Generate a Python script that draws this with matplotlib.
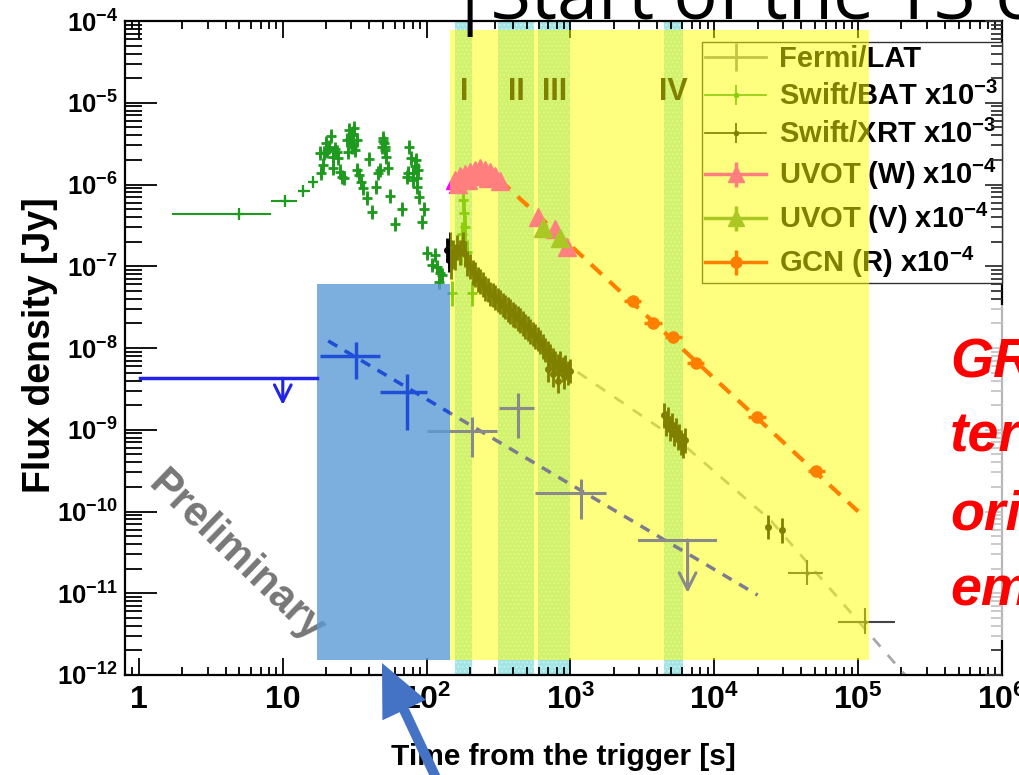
import matplotlib
matplotlib.use('Agg')
import matplotlib.pyplot as plt
from matplotlib.lines import Line2D
from matplotlib.patches import Rectangle, FancyArrow
import numpy as np

plt.rcParams['font.family'] = ['Liberation Sans', 'DejaVu Sans']
plt.rcParams['font.weight'] = 'bold'
plt.rcParams['mathtext.fontset'] = 'custom'
for k in ('rm', 'bf', 'it', 'sf'):
    plt.rcParams['mathtext.' + k] = 'Liberation Sans:bold'
plt.rcParams['mathtext.default'] = 'rm'
plt.rcParams['hatch.linewidth'] = 0.6

# ---- data (time [s], flux density [Jy]) ----
# Fermi/LAT (gray)
lat_t = [206, 434, 1175]
lat_tlo = [100, 317, 569]
lat_thi = [308, 557, 1780]
lat_f = [9.75e-10, 1.83e-9, 1.70e-10]
lat_flo = [4.7e-10, 7.85e-10, 8.0e-11]
lat_fhi = [1.44e-9, 2.79e-9, 2.48e-10]
lat_ul = [6520, 2990, 10190, 4.48e-11, 1.01e-11]   # t, tlo, thi, f, arrow end

# early LAT points (blue)
early_t = [32.3, 73.5]
early_tlo = [18.1, 47.3]
early_thi = [47.3, 100]
early_f = [7.98e-9, 2.92e-9]
early_flo = [4.14e-9, 9.9e-10]
early_fhi = [1.19e-8, 4.75e-9]
early_ul = [10, 1.02, 17.3, 4.26e-9, 2.01e-9]

lat_fit_t = [20.7, 2.0e4]
lat_fit_f = [1.22e-8, 9.5e-12]

# Swift/BAT x1e-3
bat_first_t = [5.0, 10.4, 13.9, 16.3]
bat_first_tlo = [1.70, 8.3, 12.8, 15.3]
bat_first_thi = [8.28, 12.6, 15.4, 17.4]
bat_first_f = [4.35e-7, 6.28e-7, 8.3e-7, 1.07e-6]
bat_t = [18.4, 19.0, 18.2, 19.2, 20.0, 20.8, 21.6, 22.5, 23.1, 23.7, 22.5, 24.8,
         25.7, 26.7, 28.1, 29.0, 29.7, 30.7, 31.3, 30.2, 31.8, 32.7, 28.6, 33.0,
         34.1, 35.0, 36.4, 38.4, 41.6, 40.0, 46.2, 44.5, 47.5, 49.6, 50.6, 51.4,
         52.3, 48.8, 54.2, 55.7, 60.4, 67.2, 75.9, 77.6, 72.8, 81.0, 84.5, 87.7,
         86.3, 89.1, 81.0, 74.7, 96.1, 92.7, 100, 109, 115, 118, 124, 121, 128,
         29.5, 31.0, 50.0, 51.0, 82.5, 85.5, 20.4, 24.2]
bat_f = [1.37e-6, 1.73e-6, 2.45e-6, 2.45e-6, 3.19e-6, 2.90e-6, 3.92e-6, 2.19e-6,
         2.69e-6, 2.52e-6, 1.58e-6, 1.44e-6, 1.25e-6, 1.19e-6, 3.50e-6, 4.64e-6,
         4.03e-6, 3.19e-6, 4.87e-6, 2.90e-6, 2.64e-6, 3.50e-6, 2.52e-6, 1.50e-6,
         1.31e-6, 1.08e-6, 8.97e-7, 6.78e-7, 4.65e-7, 2.03e-6, 1.37e-6, 9.40e-7,
         1.50e-6, 3.67e-6, 3.19e-6, 2.64e-6, 2.19e-6, 2.90e-6, 1.58e-6, 7.23e-7,
         3.29e-7, 5.01e-7, 2.90e-6, 2.09e-6, 1.25e-6, 1.13e-6, 2.00e-6, 1.50e-6,
         9.40e-7, 7.10e-7, 1.37e-6, 1.37e-6, 4.97e-7, 3.51e-7, 1.44e-7, 1.04e-7,
         1.37e-7, 9.88e-8, 8.2e-8, 6.48e-8, 7.81e-8,
         3.6e-6, 4.2e-6, 3.4e-6, 2.9e-6, 1.7e-6, 1.2e-6, 2.6e-6, 2.1e-6]
bat_late_t = [150, 172, 176, 179, 182, 186, 190, 206]
bat_late_f = [4.7e-8, 1.5e-7, 2.5e-7, 6.5e-7, 4.5e-7, 3.0e-7, 1.5e-7, 4.7e-8]

# Swift/XRT x1e-3
xrt_t = [138, 142, 145, 148,
         152, 158, 163, 171, 178, 185, 192, 201, 209, 217, 226, 235, 245, 255,
         265, 276, 288, 299, 311, 324, 337, 351, 365, 380, 396, 412, 429, 446,
         465, 484, 504, 524, 546, 568, 591, 615, 640, 666, 693, 722, 751, 782,
         814, 847, 882, 918, 955, 994, 700, 760, 820, 900,
         4500, 4650, 4800, 4950, 5100, 5250, 5400, 5550, 5700, 5900, 6100, 6300,
         2.37e4, 2.96e4]
xrt_f = [1.6e-7, 1.2e-7, 1.9e-7, 1.0e-7,
         1.5e-7, 1.3e-7, 1.7e-7, 1.5e-7, 1.9e-7, 1.4e-7, 1.1e-7, 1.0e-7, 8.5e-8,
         8.0e-8, 7.0e-8, 6.6e-8, 6.0e-8, 5.4e-8, 5.2e-8, 4.6e-8, 4.5e-8, 4.2e-8,
         3.9e-8, 3.7e-8, 3.4e-8, 3.2e-8, 3.0e-8, 2.8e-8, 2.6e-8, 2.5e-8, 2.3e-8,
         2.2e-8, 2.0e-8, 1.85e-8, 1.75e-8, 1.6e-8, 1.5e-8, 1.4e-8, 1.3e-8, 1.2e-8,
         1.05e-8, 9.5e-9, 8.8e-9, 8.0e-9, 7.2e-9, 6.6e-9, 6.0e-9, 6.5e-9, 5.5e-9,
         5.8e-9, 5.0e-9, 5.3e-9, 5.5e-9, 4.8e-9, 4.0e-9, 4.5e-9,
         1.5e-9, 1.2e-9, 1.35e-9, 1.05e-9, 1.15e-9, 9.0e-10, 1.0e-9, 8.0e-10,
         8.5e-10, 7.0e-10, 6.5e-10, 7.5e-10,
         6.5e-11, 5.9e-11]
xrt_wide_t = [4.4e4, 1.11e5]
xrt_wide_tlo = [3.26e4, 7.3e4]
xrt_wide_thi = [5.7e4, 1.81e5]
xrt_wide_f = [1.78e-11, 4.49e-12]
xrt_fit_t = [185, 994, 5810, 2.45e4, 2.12e5]
xrt_fit_f = [1.04e-7, 5.86e-9, 7.08e-10, 7.87e-11, 1.0e-12]

# UVOT x1e-4
uvw_t = [158, 171, 185, 201, 217, 235, 255, 276, 299, 324, 166, 195, 228, 268,
         599, 783, 944]
uvw_f = [1.13e-6, 1.27e-6, 1.34e-6, 1.42e-6, 1.50e-6, 1.59e-6, 1.50e-6, 1.42e-6,
         1.27e-6, 1.10e-6, 1.01e-6, 1.13e-6, 1.27e-6, 1.20e-6,
         4.04e-7, 2.83e-7, 1.71e-7]
uvv_t = [649, 848]
uvv_f = [2.91e-7, 2.20e-7]

# GCN (R) x1e-4
gcn_t = [2700, 3750, 5200, 7430, 1.98e4, 5.13e4]
gcn_f = [3.79e-8, 2.0e-8, 1.35e-8, 6.5e-9, 1.42e-9, 3.16e-10]
gcn_fit_t = [320, 1.0e5]
gcn_fit_f = [1.15e-6, 1.0e-10]

# time intervals I-IV
band_lo = [158, 315, 599, 4450]
band_hi = [208, 561, 1000, 6030]
band_names = ['I', 'II', 'III', 'IV']

# slide overlays (data coordinates)
yellow_box = [146, 1.19e5, 1.52e-12, 7.76e-5]
blue_box = [17.3, 146, 1.52e-12, 6.07e-8]

C_LAT = '#8a8a8a'
C_BLUE = '#1f4fd6'
C_BAT = '#1e9a1e'
C_UVW = '#ff00ff'
C_UVV = '#55904a'
C_GCN = '#ff0000'

fig = plt.figure(figsize=(10.19, 7.75), dpi=100)
ax = fig.add_axes([125 / 1019, 100 / 775, 877 / 1019, 654 / 775])
ax.set_xscale('log')
ax.set_yscale('log')
ax.set_xlim(0.8, 1e6)
ax.set_ylim(1e-12, 1e-4)

for lo, hi in zip(band_lo, band_hi):
    ax.axvspan(lo, hi, facecolor='#a3e4e4', edgecolor='#d4f6f6', hatch='....',
               lw=0, zorder=0.5)

ax.text(4.7, 2.8e-11, 'Preliminary', rotation=-44, rotation_mode='anchor',
        ha='center', va='center', fontsize=30, color='#777777', zorder=1)

# BAT
bat_first_f = np.array(bat_first_f)
ax.errorbar(bat_first_t, bat_first_f,
            xerr=[np.array(bat_first_t) - bat_first_tlo, np.array(bat_first_thi) - bat_first_t],
            yerr=[bat_first_f * 0.15, bat_first_f * 0.18], fmt='+', ms=7, mew=1.6,
            color=C_BAT, elinewidth=1.5, capsize=0, zorder=2)
bat_f = np.array(bat_f)
ax.errorbar(bat_t, bat_f, yerr=[bat_f * 0.18, bat_f * 0.22], fmt='+', ms=7, mew=2,
            color=C_BAT, elinewidth=2, capsize=0, zorder=2)
bat_late_f = np.array(bat_late_f)
ax.errorbar(bat_late_t, bat_late_f, yerr=[bat_late_f * 0.3, bat_late_f * 0.4],
            fmt='+', ms=7, mew=2, color=C_BAT, elinewidth=2, capsize=0, zorder=2)

# XRT
ax.plot(xrt_fit_t, xrt_fit_f, color='#a8a8a8', lw=2, dashes=(4, 4), zorder=2)
xrt_f = np.array(xrt_f)
xrt_t = np.array(xrt_t)
ax.errorbar(xrt_t, xrt_f, xerr=[xrt_t * 0.03, xrt_t * 0.03],
            yerr=[xrt_f * 0.3, xrt_f * 0.4], fmt='o', ms=4, color='black',
            elinewidth=2, capsize=0, zorder=2.2)
ax.errorbar(xrt_wide_t, xrt_wide_f,
            xerr=[np.array(xrt_wide_t) - xrt_wide_tlo, np.array(xrt_wide_thi) - xrt_wide_t],
            yerr=[np.array(xrt_wide_f) * 0.3, np.array(xrt_wide_f) * 0.45], fmt='.', ms=4,
            color='#444444', elinewidth=1.5, capsize=0, zorder=2.2)

# GCN
ax.plot(gcn_fit_t, gcn_fit_f, color=C_GCN, lw=3, dashes=(3.5, 2.5), zorder=2)
gcn_t = np.array(gcn_t)
ax.errorbar(gcn_t, gcn_f, xerr=[gcn_t * 0.13, gcn_t * 0.15], fmt='o', ms=8,
            color=C_GCN, elinewidth=2.5, capsize=0, zorder=2.5)

# UVOT
ax.plot(uvw_t, uvw_f, ls='none', marker='^', ms=13, color=C_UVW, zorder=2.6)
ax.plot(uvv_t, uvv_f, ls='none', marker='^', ms=13, color=C_UVV, zorder=2.6)

for lo, hi, name in zip(band_lo, band_hi, band_names):
    ax.text(np.sqrt(lo * hi), 1.35e-5, name, ha='center', va='center',
            fontsize=22, color='black', zorder=3)

handles = [
    (Line2D([], [], color=C_LAT, lw=2),
     Line2D([], [], ls='none', marker='|', ms=20, mew=2, color=C_LAT)),
    (Line2D([], [], color=C_BAT, lw=1.2),
     Line2D([], [], ls='none', marker='|', ms=14, mew=1.2, color=C_BAT),
     Line2D([], [], ls='none', marker='o', ms=3, color=C_BAT)),
    (Line2D([], [], color='black', lw=1.2),
     Line2D([], [], ls='none', marker='|', ms=14, mew=1.2, color='black'),
     Line2D([], [], ls='none', marker='o', ms=3, color='black')),
    (Line2D([], [], color=C_UVW, lw=2.5),
     Line2D([], [], ls='none', marker='|', ms=18, mew=2.5, color=C_UVW),
     Line2D([], [], ls='none', marker='^', ms=11, color=C_UVW)),
    (Line2D([], [], color=C_UVV, lw=2.5),
     Line2D([], [], ls='none', marker='|', ms=18, mew=2.5, color=C_UVV),
     Line2D([], [], ls='none', marker='^', ms=11, color=C_UVV)),
    (Line2D([], [], color=C_GCN, lw=2.5),
     Line2D([], [], ls='none', marker='|', ms=18, mew=2.5, color=C_GCN),
     Line2D([], [], ls='none', marker='o', ms=8, color=C_GCN)),
]
labels = ['Fermi/LAT', r'Swift/BAT x10$^{-3}$', r'Swift/XRT x10$^{-3}$',
          r'UVOT (W) x10$^{-4}$', r'UVOT (V) x10$^{-4}$', r'GCN (R) x10$^{-4}$']
leg = ax.legend(handles, labels, loc='upper right', bbox_to_anchor=(1.0, 0.968),
                borderaxespad=0, fancybox=False, edgecolor='#333333', framealpha=1,
                fontsize=21, handlelength=2.1, handletextpad=0.45, labelspacing=0.29,
                borderpad=0.12, numpoints=1)
leg.get_frame().set_linewidth(1.0)
leg.set_zorder(4)

# yellow highlight
ax.add_patch(Rectangle((yellow_box[0], yellow_box[2]), yellow_box[1] - yellow_box[0],
                       yellow_box[3] - yellow_box[2], facecolor=(1, 1, 0), alpha=0.5,
                       lw=0, zorder=5))

# Fermi/LAT on top of yellow
ax.plot(lat_fit_t, lat_fit_f, color='#7c7c8e', lw=2.5, dashes=(3, 2.5), zorder=6)
ax.errorbar(lat_t, lat_f,
            xerr=[np.array(lat_t) - lat_tlo, np.array(lat_thi) - lat_t],
            yerr=[np.array(lat_f) - lat_flo, np.array(lat_fhi) - lat_f],
            fmt='none', ecolor=C_LAT, elinewidth=2.2, capsize=0, zorder=6)
ax.plot([lat_ul[1], lat_ul[2]], [lat_ul[3], lat_ul[3]], color=C_LAT, lw=2.2, zorder=6)
ax.annotate('', xy=(lat_ul[0], lat_ul[4]), xytext=(lat_ul[0], lat_ul[3]),
            arrowprops=dict(arrowstyle='->', color=C_LAT, lw=2.2, mutation_scale=30,
                            shrinkA=0, shrinkB=0), zorder=6)

# blue highlight
bbox = Rectangle((blue_box[0], blue_box[2]), blue_box[1] - blue_box[0],
                 blue_box[3] - blue_box[2], facecolor='#5b9bd5', alpha=0.8, lw=0, zorder=7)
ax.add_patch(bbox)

# early points (blue)
fit_blue, = ax.plot(lat_fit_t, lat_fit_f, color=C_BLUE, lw=2.5, dashes=(3, 2.5), zorder=8)
fit_blue.set_clip_path(bbox)
ax.errorbar(early_t, early_f,
            xerr=[np.array(early_t) - early_tlo, np.array(early_thi) - early_t],
            yerr=[np.array(early_f) - early_flo, np.array(early_fhi) - early_f],
            fmt='none', ecolor=C_BLUE, elinewidth=2.5, capsize=0, zorder=8)
ax.plot([early_ul[1], early_ul[2]], [early_ul[3], early_ul[3]], color='#2222e8', lw=2.5, zorder=8)
ax.annotate('', xy=(early_ul[0], early_ul[4]), xytext=(early_ul[0], early_ul[3]),
            arrowprops=dict(arrowstyle='->', color='#2222e8', lw=2.2, mutation_scale=30,
                            shrinkA=0, shrinkB=0), zorder=8)

# axes styling (ROOT-like)
xt = [1, 10, 1e2, 1e3, 1e4, 1e5, 1e6]
xl = ['1', '10', r'$10^{2}$', r'$10^{3}$', r'$10^{4}$', r'$10^{5}$', r'$10^{6}$']
ax.set_xticks(xt)
ax.set_xticklabels(xl)
yt = [10.0 ** e for e in range(-12, -3)]
ax.set_yticks(yt)
ax.set_yticklabels([r'$10^{%d}$' % e for e in range(-12, -3)])
ax.tick_params(axis='x', which='both', direction='in', top=True, bottom=True,
               labelsize=23, pad=7, width=1.3)
ax.tick_params(axis='x', which='major', length=12)
ax.tick_params(axis='x', which='minor', length=6)
ax.tick_params(axis='y', which='both', direction='in', left=True, right=False,
               labelsize=18.5, pad=5, width=1.3)
ax.tick_params(axis='y', which='major', length=23)
ax.tick_params(axis='y', which='minor', length=12)
for s in ax.spines.values():
    s.set_linewidth(1.6)

ax2 = ax.twinx()
ax2.set_yscale('log')
ax2.set_ylim(1e-12, 1e-4)
ax2.tick_params(axis='y', which='both', direction='in', labelright=False, width=1.3,
                color='#333333')
ax2.tick_params(axis='y', which='major', length=12)
ax2.tick_params(axis='y', which='minor', length=8)
for s in ax2.spines.values():
    s.set_visible(False)

fig.text(40 / 1019, 430 / 775, 'Flux density [Jy]', rotation=90, ha='center',
         va='center', fontsize=27)
fig.text(563 / 1019, 18 / 775, 'Time from the trigger [s]', ha='center', va='center',
         fontsize=21.5)

# slide annotations
fig.text(450 / 1019, 756 / 775, '|Start of the T3 e', fontsize=53, family='Open Sans',
         weight='normal', ha='left', va='baseline')

fig.add_artist(Rectangle((945 / 1019, 135 / 775), 74 / 1019, 335 / 775,
                         transform=fig.transFigure, facecolor='white', alpha=0.72,
                         lw=0, zorder=3))
for word, yb in zip(['GR', 'ter', 'ori', 'em'], [377, 452, 530, 605]):
    fig.text(950 / 1019, (775 - yb) / 775, word, fontsize=40, style='italic',
             weight='bold', color='#ff0000', ha='left', va='baseline', zorder=4)

fig.add_artist(FancyArrow(4.37, -0.05, -0.55, 1.17, width=0.10, head_width=0.48,
                          head_length=0.52, length_includes_head=True,
                          transform=fig.dpi_scale_trans, color='#4472c4', lw=0, zorder=5))

fig.savefig('out.png', dpi=100)
